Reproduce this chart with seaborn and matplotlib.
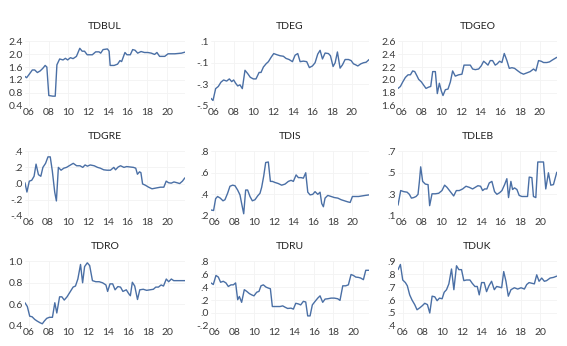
import pandas as pd
import matplotlib.pyplot as plt
import seaborn as sns

# values, (decimal year, value)
bul_t = [2005.59, 2005.76, 2006.03, 2006.34, 2006.58, 2006.85, 2007.13, 2007.40, 2007.64, 2007.81,
         2008.01, 2008.42, 2008.66, 2008.83, 2009.11, 2009.45, 2009.69, 2009.92, 2010.20, 2010.47,
         2010.81, 2011.15, 2011.39, 2011.63, 2011.90, 2012.42, 2012.76, 2013.10, 2013.27, 2013.51,
         2013.95, 2014.12, 2014.23, 2014.63, 2014.98, 2015.22, 2015.39, 2015.73, 2015.93, 2016.27,
         2016.51, 2016.75, 2017.02, 2017.36, 2017.71, 2018.05, 2018.40, 2018.73, 2018.97, 2019.24,
         2019.76, 2020.10, 2020.78, 2021.46, 2021.80]
bul_v = [1.31, 1.27, 1.38, 1.51, 1.51, 1.43, 1.48, 1.56, 1.65, 1.60,
         0.72, 0.70, 0.70, 1.67, 1.85, 1.82, 1.87, 1.82, 1.89, 1.86,
         1.93, 2.18, 2.09, 2.09, 1.98, 1.98, 2.07, 2.07, 2.03, 2.14,
         2.16, 2.09, 1.65, 1.65, 1.69, 1.80, 1.77, 2.05, 1.98, 1.98,
         2.14, 2.12, 2.03, 2.08, 2.05, 2.05, 2.03, 1.99, 2.05, 1.93,
         1.93, 2.01, 2.01, 2.03, 2.06]

eg_t = [2005.69, 2005.90, 2006.17, 2006.44, 2006.71, 2006.98, 2007.29, 2007.56, 2007.80, 2008.00,
        2008.20, 2008.41, 2008.64, 2008.88, 2009.15, 2009.42, 2009.69, 2010.00, 2010.27, 2010.58,
        2010.78, 2011.02, 2011.29, 2011.53, 2011.80, 2012.07, 2012.37, 2012.71, 2013.05, 2013.32,
        2013.63, 2013.97, 2014.24, 2014.51, 2014.75, 2015.08, 2015.42, 2015.69, 2016.00, 2016.27,
        2016.54, 2016.78, 2017.02, 2017.29, 2017.63, 2017.83, 2018.10, 2018.31, 2018.54, 2018.81,
        2019.05, 2019.32, 2019.66, 2019.93, 2020.17, 2020.41, 2020.61, 2020.92, 2021.19, 2021.46,
        2021.76]
eg_v = [-0.43, -0.45, -0.34, -0.32, -0.28, -0.26, -0.27, -0.25, -0.275, -0.26,
        -0.29, -0.315, -0.305, -0.34, -0.17, -0.20, -0.235, -0.25, -0.25, -0.19,
        -0.19, -0.14, -0.11, -0.09, -0.05, -0.015, -0.025, -0.035, -0.04, -0.06,
        -0.07, -0.09, -0.03, -0.015, -0.09, -0.085, -0.09, -0.145, -0.13, -0.10,
        -0.02, 0.015, -0.065, -0.01, -0.015, -0.035, -0.135, -0.10, 0.0, -0.15,
        -0.12, -0.07, -0.07, -0.08, -0.11, -0.12, -0.13, -0.11, -0.10, -0.095,
        -0.07]

geo_t = [2005.59, 2005.83, 2006.07, 2006.34, 2006.61, 2006.85, 2007.08, 2007.29, 2007.53, 2007.69,
         2007.97, 2008.20, 2008.44, 2008.71, 2008.92, 2009.12, 2009.39, 2009.59, 2009.80, 2010.00,
         2010.17, 2010.41, 2010.68, 2010.92, 2011.15, 2011.42, 2011.76, 2012.10, 2012.31, 2012.61,
         2012.95, 2013.19, 2013.46, 2013.80, 2014.07, 2014.31, 2014.54, 2014.75, 2014.98, 2015.22,
         2015.49, 2015.69, 2015.93, 2016.17, 2016.41, 2016.68, 2016.92, 2017.19, 2017.46, 2017.80,
         2018.07, 2018.37, 2018.71, 2019.05, 2019.39, 2019.63, 2019.90, 2020.17, 2020.41, 2020.75,
         2021.02, 2021.32, 2021.76]
geo_v = [1.87, 1.90, 1.97, 2.04, 2.08, 2.08, 2.14, 2.13, 2.06, 2.01,
         1.97, 1.92, 1.87, 1.89, 1.90, 2.13, 2.13, 1.79, 1.95, 1.83,
         1.76, 1.85, 1.86, 1.97, 2.14, 2.06, 2.08, 2.09, 2.23, 2.23,
         2.23, 2.17, 2.16, 2.17, 2.22, 2.29, 2.26, 2.23, 2.30, 2.30,
         2.23, 2.25, 2.29, 2.27, 2.41, 2.30, 2.18, 2.19, 2.18, 2.14,
         2.11, 2.09, 2.11, 2.13, 2.17, 2.14, 2.30, 2.29, 2.27, 2.27,
         2.28, 2.31, 2.35]

gre_t = [2005.66, 2005.86, 2006.10, 2006.34, 2006.58, 2006.78, 2007.02, 2007.26, 2007.47, 2007.74,
         2007.98, 2008.21, 2008.42, 2008.66, 2008.83, 2009.03, 2009.30, 2009.58, 2009.85, 2010.12,
         2010.53, 2010.87, 2011.21, 2011.49, 2011.72, 2011.96, 2012.24, 2012.64, 2012.98, 2013.26,
         2013.60, 2013.94, 2014.28, 2014.62, 2014.79, 2015.06, 2015.30, 2015.64, 2015.91, 2016.26,
         2016.60, 2016.83, 2017.00, 2017.21, 2017.35, 2017.52, 2017.79, 2018.13, 2018.47, 2018.88,
         2019.32, 2019.66, 2019.90, 2020.14, 2020.41, 2020.68, 2020.99, 2021.26, 2021.54, 2021.78]
gre_v = [0.01, -0.105, 0.03, 0.04, 0.09, 0.24, 0.11, 0.09, 0.20, 0.25,
         0.33, 0.33, 0.155, -0.105, -0.215, 0.20, 0.165, 0.19, 0.20, 0.22,
         0.25, 0.22, 0.22, 0.20, 0.23, 0.215, 0.23, 0.22, 0.20, 0.19,
         0.17, 0.165, 0.165, 0.20, 0.17, 0.205, 0.22, 0.20, 0.21, 0.205,
         0.20, 0.19, 0.115, 0.145, 0.135, -0.005, -0.02, -0.045, -0.065, -0.055,
         -0.045, -0.045, 0.03, 0.01, 0.005, 0.02, 0.01, 0.0, 0.03, 0.07]

is_t = [2005.59, 2005.86, 2006.07, 2006.27, 2006.54, 2006.82, 2007.02, 2007.29, 2007.53, 2007.80,
        2008.04, 2008.31, 2008.55, 2008.72, 2008.93, 2009.13, 2009.33, 2009.57, 2009.81, 2010.08,
        2010.35, 2010.59, 2010.76, 2010.97, 2011.17, 2011.44, 2011.65, 2011.85, 2012.12, 2012.46,
        2012.80, 2013.14, 2013.48, 2013.76, 2013.99, 2014.27, 2014.50, 2014.78, 2015.01, 2015.25,
        2015.46, 2015.69, 2015.97, 2016.20, 2016.48, 2016.71, 2016.88, 2017.05, 2017.22, 2017.50,
        2017.84, 2018.18, 2018.52, 2018.86, 2019.20, 2019.54, 2019.78, 2020.01, 2020.29, 2020.63,
        2020.97, 2021.31, 2021.71]
is_v = [0.255, 0.25, 0.36, 0.38, 0.365, 0.34, 0.35, 0.41, 0.475, 0.485,
        0.48, 0.44, 0.395, 0.315, 0.22, 0.44, 0.44, 0.38, 0.34, 0.35,
        0.385, 0.41, 0.465, 0.57, 0.695, 0.70, 0.52, 0.52, 0.51, 0.50,
        0.485, 0.495, 0.52, 0.53, 0.52, 0.58, 0.555, 0.555, 0.55, 0.60,
        0.42, 0.395, 0.40, 0.425, 0.40, 0.42, 0.315, 0.285, 0.365, 0.39,
        0.38, 0.37, 0.365, 0.35, 0.34, 0.33, 0.325, 0.38, 0.38, 0.38,
        0.385, 0.39, 0.395]

leb_t = [2005.59, 2005.86, 2006.17, 2006.51, 2006.74, 2006.95, 2007.18, 2007.42, 2007.62, 2007.76,
         2007.89, 2008.09, 2008.36, 2008.64, 2008.80, 2009.04, 2009.38, 2009.72, 2010.05, 2010.32,
         2010.56, 2010.90, 2011.24, 2011.51, 2011.81, 2012.15, 2012.49, 2012.82, 2013.16, 2013.43,
         2013.70, 2013.97, 2014.18, 2014.38, 2014.61, 2014.85, 2015.12, 2015.39, 2015.63, 2015.90,
         2016.14, 2016.41, 2016.64, 2016.81, 2017.05, 2017.22, 2017.42, 2017.66, 2017.89, 2018.16,
         2018.50, 2018.74, 2018.91, 2019.18, 2019.34, 2019.58, 2019.78, 2020.12, 2020.36, 2020.59,
         2020.86, 2021.10, 2021.37, 2021.71]
leb_v = [0.20, 0.335, 0.325, 0.32, 0.30, 0.265, 0.27, 0.28, 0.30, 0.42,
         0.555, 0.42, 0.395, 0.39, 0.195, 0.305, 0.305, 0.31, 0.335, 0.385,
         0.365, 0.325, 0.285, 0.335, 0.335, 0.35, 0.375, 0.365, 0.35, 0.365,
         0.38, 0.375, 0.335, 0.35, 0.35, 0.405, 0.42, 0.325, 0.30, 0.315,
         0.335, 0.39, 0.445, 0.27, 0.42, 0.345, 0.36, 0.345, 0.29, 0.28,
         0.28, 0.28, 0.46, 0.455, 0.28, 0.27, 0.60, 0.60, 0.60, 0.35,
         0.50, 0.385, 0.39, 0.505]

ro_t = [2005.62, 2005.86, 2006.10, 2006.34, 2006.61, 2006.85, 2007.13, 2007.37, 2007.57, 2007.81,
        2008.08, 2008.39, 2008.63, 2008.83, 2009.11, 2009.34, 2009.58, 2009.86, 2010.20, 2010.47,
        2010.71, 2010.95, 2011.22, 2011.43, 2011.63, 2011.90, 2012.14, 2012.42, 2012.76, 2013.10,
        2013.44, 2013.78, 2013.95, 2014.19, 2014.46, 2014.70, 2014.98, 2015.25, 2015.49, 2015.83,
        2016.07, 2016.24, 2016.44, 2016.68, 2016.96, 2017.19, 2017.54, 2017.88, 2018.22, 2018.56,
        2018.80, 2019.07, 2019.34, 2019.58, 2019.86, 2020.10, 2020.37, 2020.61, 2021.12, 2021.73]
ro_v = [0.615, 0.58, 0.49, 0.485, 0.46, 0.445, 0.43, 0.42, 0.445, 0.47,
        0.48, 0.48, 0.615, 0.52, 0.67, 0.67, 0.64, 0.67, 0.72, 0.76,
        0.77, 0.835, 0.97, 0.80, 0.95, 0.985, 0.96, 0.82, 0.81, 0.81,
        0.80, 0.78, 0.72, 0.79, 0.79, 0.735, 0.765, 0.76, 0.72, 0.735,
        0.70, 0.68, 0.805, 0.77, 0.645, 0.735, 0.74, 0.73, 0.735, 0.74,
        0.76, 0.76, 0.78, 0.77, 0.835, 0.81, 0.835, 0.82, 0.82, 0.82]

ru_t = [2005.59, 2005.83, 2006.10, 2006.34, 2006.57, 2006.84, 2007.11, 2007.35, 2007.62, 2007.86,
        2008.09, 2008.30, 2008.47, 2008.70, 2008.97, 2009.21, 2009.48, 2009.72, 2009.95, 2010.22,
        2010.46, 2010.66, 2010.90, 2011.17, 2011.41, 2011.61, 2011.81, 2012.25, 2012.59, 2012.86,
        2013.09, 2013.36, 2013.70, 2013.94, 2014.18, 2014.45, 2014.68, 2014.95, 2015.19, 2015.39,
        2015.63, 2015.86, 2016.14, 2016.41, 2016.64, 2016.91, 2017.15, 2017.42, 2017.76, 2018.09,
        2018.43, 2018.66, 2018.94, 2019.24, 2019.51, 2019.78, 2020.02, 2020.26, 2020.53, 2020.76,
        2021.03, 2021.27, 2021.61]
ru_v = [0.465, 0.44, 0.58, 0.555, 0.475, 0.49, 0.465, 0.41, 0.435, 0.435,
        0.465, 0.205, 0.255, 0.165, 0.36, 0.335, 0.30, 0.28, 0.265, 0.32,
        0.335, 0.42, 0.435, 0.40, 0.385, 0.375, 0.10, 0.10, 0.10, 0.11,
        0.09, 0.07, 0.075, 0.06, 0.15, 0.14, 0.125, 0.18, 0.17, -0.045,
        -0.045, 0.125, 0.18, 0.23, 0.265, 0.165, 0.215, 0.22, 0.23, 0.23,
        0.22, 0.195, 0.42, 0.42, 0.435, 0.595, 0.58, 0.555, 0.55, 0.54,
        0.515, 0.66, 0.66]

uk_t = [2005.49, 2005.73, 2005.97, 2006.24, 2006.44, 2006.68, 2006.92, 2007.19, 2007.43, 2007.71,
        2007.95, 2008.22, 2008.49, 2008.73, 2008.97, 2009.24, 2009.48, 2009.72, 2009.99, 2010.20,
        2010.44, 2010.68, 2010.95, 2011.19, 2011.46, 2011.70, 2011.97, 2012.21, 2012.48, 2012.83,
        2013.06, 2013.34, 2013.58, 2013.78, 2014.02, 2014.29, 2014.53, 2014.77, 2015.04, 2015.32,
        2015.56, 2015.84, 2016.07, 2016.28, 2016.51, 2016.75, 2017.02, 2017.37, 2017.71, 2018.05,
        2018.39, 2018.63, 2018.87, 2019.14, 2019.41, 2019.65, 2019.89, 2020.16, 2020.43, 2020.66,
        2021.02, 2021.36, 2021.70]
uk_v = [0.835, 0.875, 0.755, 0.735, 0.71, 0.64, 0.60, 0.565, 0.525, 0.54,
        0.555, 0.575, 0.565, 0.50, 0.63, 0.625, 0.595, 0.615, 0.61, 0.66,
        0.68, 0.725, 0.84, 0.68, 0.865, 0.835, 0.835, 0.75, 0.755, 0.755,
        0.73, 0.705, 0.705, 0.64, 0.735, 0.735, 0.665, 0.71, 0.745, 0.68,
        0.705, 0.70, 0.695, 0.82, 0.745, 0.63, 0.68, 0.695, 0.685, 0.695,
        0.685, 0.72, 0.735, 0.73, 0.725, 0.795, 0.745, 0.77, 0.745, 0.75,
        0.77, 0.775, 0.785]

year_ticks = [2006, 2008, 2010, 2012, 2014, 2016, 2018, 2020]
year_labels = ["06", "08", "10", "12", "14", "16", "18", "20"]

panels = [
    ("TDBUL", bul_t, bul_v, [2.4, 2.0, 1.6, 1.2, 0.8, 0.4], ["2.4", "2.0", "1.6", "1.2", "0.8", "0.4"]),
    ("TDEG", eg_t, eg_v, [0.1, -0.1, -0.3, -0.5], [".1", "-.1", "-.3", "-.5"]),
    ("TDGEO", geo_t, geo_v, [2.6, 2.4, 2.2, 2.0, 1.8, 1.6], ["2.6", "2.4", "2.2", "2.0", "1.8", "1.6"]),
    ("TDGRE", gre_t, gre_v, [0.4, 0.2, 0.0, -0.2, -0.4], [".4", ".2", ".0", "-.2", "-.4"]),
    ("TDIS", is_t, is_v, [0.8, 0.6, 0.4, 0.2], [".8", ".6", ".4", ".2"]),
    ("TDLEB", leb_t, leb_v, [0.7, 0.5, 0.3, 0.1], [".7", ".5", ".3", ".1"]),
    ("TDRO", ro_t, ro_v, [1.0, 0.8, 0.6, 0.4], ["1.0", "0.8", "0.6", "0.4"]),
    ("TDRU", ru_t, ru_v, [0.8, 0.6, 0.4, 0.2, 0.0, -0.2], [".8", ".6", ".4", ".2", ".0", "-.2"]),
    ("TDUK", uk_t, uk_v, [0.9, 0.8, 0.7, 0.6, 0.5, 0.4], [".9", ".8", ".7", ".6", ".5", ".4"]),
]

sns.set_style("white")
plt.rcParams['font.family'] = ['Lato', 'DejaVu Sans']

fig = plt.figure(figsize=(5.67, 3.46), dpi=100)

lefts = [0.044, 0.372, 0.702]
widths = [0.282, 0.279, 0.280]
bottoms = [0.694, 0.376, 0.058]
height = 0.187

for i, (name, t, v, yt, yl) in enumerate(panels):
    row, col = divmod(i, 3)
    ax = fig.add_axes([lefts[col], bottoms[row], widths[col], height])
    df = pd.DataFrame({"year": t, "value": v})
    sns.lineplot(data=df, x="year", y="value", ax=ax, color="#4a6fa5", linewidth=1.0)
    ax.set_xlim(min(t), max(t))
    ax.set_ylim(min(yt), max(yt))
    ax.set_xticks(year_ticks)
    ax.set_xticklabels(year_labels)
    ax.set_yticks(yt)
    ax.set_yticklabels(yl)
    ax.tick_params(axis="both", length=0, labelsize=7.5, pad=1.5, colors="#3a3a3a")
    ax.grid(True, color="#f3f3f3", linewidth=0.6)
    for s in ax.spines.values():
        s.set_visible(False)
    ax.set_xlabel("")
    ax.set_ylabel("")
    ax.set_title(name, fontsize=7.5, pad=9, color="#222222")

fig.savefig("out.png", dpi=100)
